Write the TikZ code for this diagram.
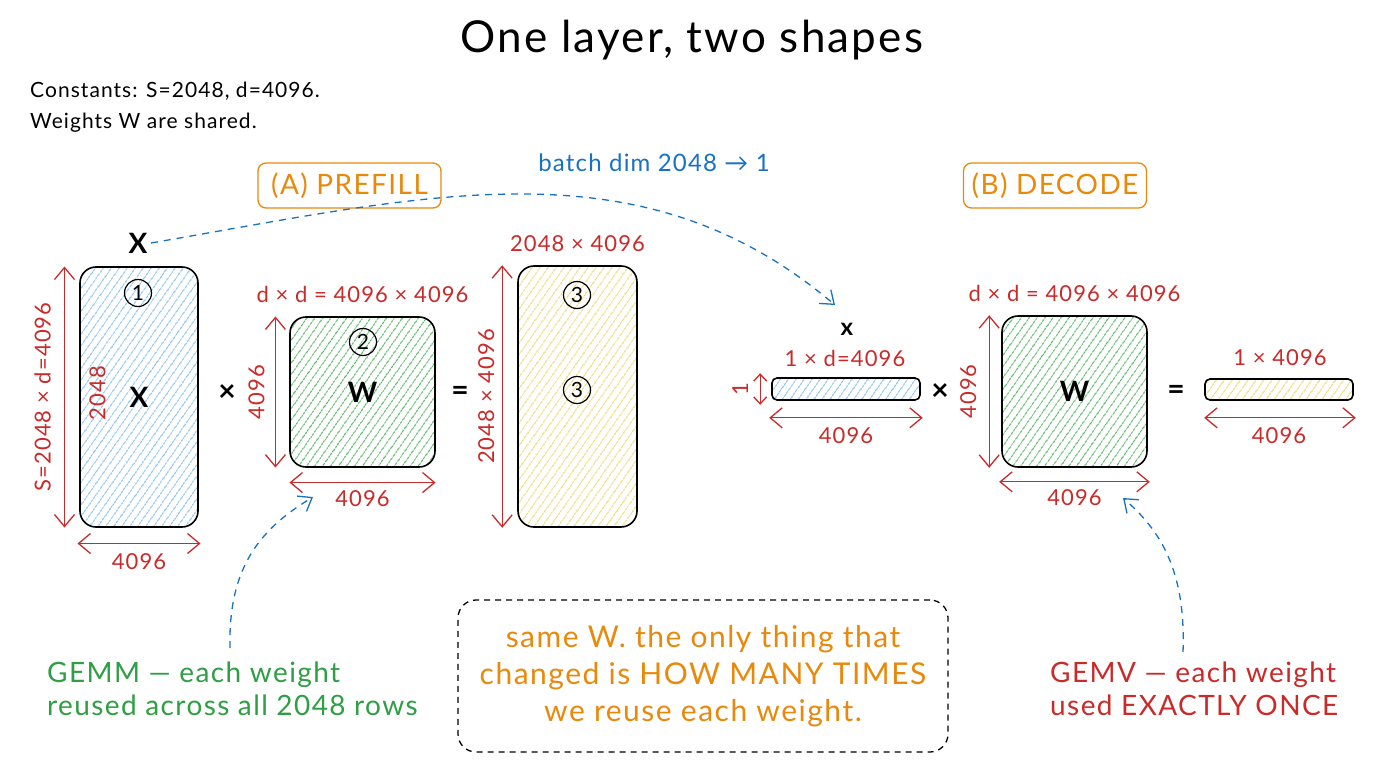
\documentclass[tikz,border=0pt]{standalone}
\usepackage{fontspec}
\setmainfont{Lato}[LetterSpace=5]
\usetikzlibrary{patterns.meta,arrows.meta}
\definecolor{cred}{HTML}{C92A2A}
\definecolor{cblue}{HTML}{1971C2}
\definecolor{cgreen}{HTML}{2F9E44}
\definecolor{corange}{HTML}{E8890C}
\definecolor{hblue}{HTML}{8CC2EE}
\definecolor{hgreen}{HTML}{5CB86A}
\definecolor{hyellow}{HTML}{EEDA7A}
\begin{document}
\begin{tikzpicture}[x=1pt,y=-1pt,
  mat/.style={draw=black,line width=1.6pt,rounded corners=16pt,inner sep=0pt,
    font=\fontsize{28}{30}\selectfont\bfseries},
  hatchb/.style={pattern={Lines[angle=55,distance=6.5pt,line width=1pt]},pattern color=hblue},
  hatchg/.style={pattern={Lines[angle=55,distance=6.5pt,line width=1.1pt]},pattern color=hgreen},
  hatchy/.style={pattern={Lines[angle=55,distance=6.5pt,line width=1pt]},pattern color=hyellow},
  dim/.style={draw=cred,line width=1.3pt,{Straight Barb[length=12pt,width=20pt]}-{Straight Barb[length=12pt,width=20pt]}},
  sdim/.style={draw=cred,line width=1.3pt,{Straight Barb[length=7pt,width=13pt]}-{Straight Barb[length=7pt,width=13pt]}},
  rlab/.style={text=cred,font=\fontsize{22}{24}\selectfont,inner sep=1pt},
  num/.style={draw=black,circle,line width=1.2pt,minimum size=27pt,inner sep=0pt,font=\fontsize{21}{21}\selectfont},
  op/.style={font=\fontsize{30}{30}\selectfont\bfseries},
  phase/.style={draw=corange,text=corange,line width=1.3pt,rounded corners=8pt,minimum width=183pt,minimum height=45pt,font=\fontsize{28}{30}\selectfont},
  bluearrow/.style={draw=cblue,line width=1.3pt,dash pattern=on 7pt off 6pt,-{Straight Barb[length=12pt,width=18pt]}}
]
\useasboundingbox (0,0) rectangle (1376,768);

% title and notes
\node (title) at (692,40) {\fontsize{44}{50}\selectfont One layer, two shapes};
\node[anchor=north west,align=left,inner sep=0pt,font=\fontsize{21}{31}\selectfont] (const) at (30,82)
  {Constants: S=2048, d=4096.\\Weights W are shared.};

\node[phase] (prefill) at (349.5,185.5) {(A) PREFILL};
\node[phase] (decode) at (1055,185.5) {(B) DECODE};
\node[text=cblue,font=\fontsize{24}{26}\selectfont] (batch) at (654,163) {batch dim 2048 → 1};

% ---------------- prefill ----------------
\node[mat,hatchb,minimum width=118pt,minimum height=260pt] (X) at (139,397) {X};
\node[font=\fontsize{28}{30}\selectfont\bfseries] (xlab) at (138,243) {X};
\node[num] (c1) at (138,293) {1};
\draw[dim] ([xshift=-15pt]X.north west) -- ([xshift=-15pt]X.south west);
\node[rlab,rotate=90] (xvert) at ([xshift=-37pt]X.west) {S=2048 × d=4096};
\node[rlab,rotate=90] (xin) at ([xshift=18pt,yshift=4pt]X.west) {2048};
\draw[dim] ([yshift=-16pt,xshift=-2pt]X.south west) -- ([yshift=-16pt,xshift=2pt]X.south east);
\node[rlab] (xh) at ([yshift=-34pt]X.south) {4096};

\node[op] (times1) at (227,393) {×};

\node[mat,hatchg,minimum width=145pt,minimum height=150pt] (W) at (362.5,392) {W};
\node[num] (c2) at (363,342) {2};
\node[rlab] (wtop) at ([yshift=22pt]W.north) {d × d = 4096 × 4096};
\draw[dim] ([xshift=-14pt]W.north west) -- ([xshift=-14pt]W.south west);
\node[rlab,rotate=90] (wvert) at ([xshift=-33pt]W.west) {4096};
\draw[dim] ([yshift=-15pt]W.south west) -- ([yshift=-15pt]W.south east);
\node[rlab] (wh) at ([yshift=-31pt]W.south) {4096};

\node[op] (eq1) at (460,393) {=};

\node[mat,hatchy,minimum width=119pt,minimum height=261pt] (Y) at (577.5,396.5) {};
\node[num] (c3a) at (577,295) {3};
\node[num] (c3b) at (577,390) {3};
\node[rlab] (ytop) at ([yshift=22pt]Y.north) {2048 × 4096};
\draw[dim] ([xshift=-15pt]Y.north west) -- ([xshift=-15pt]Y.south west);
\node[rlab,rotate=90] (yvert) at ([xshift=-31pt]Y.west) {2048 × 4096};

% ---------------- decode ----------------
\node[font=\fontsize{24}{26}\selectfont\bfseries] (xs) at (847,329) {x};
\node[rlab] (xbtop) at (845,358) {1 × d=4096};
\node[mat,hatchb,rounded corners=5pt,minimum width=148pt,minimum height=22pt] (xb) at (846,389) {};
\draw[sdim] ([xshift=-11pt,yshift=4pt]xb.north west) -- ([xshift=-11pt,yshift=-4pt]xb.south west);
\node[rlab,rotate=90] (xbv) at ([xshift=-31pt]xb.west) {1};
\draw[dim] ([yshift=-17pt,xshift=-2pt]xb.south west) -- ([yshift=-17pt,xshift=2pt]xb.south east);
\node[rlab] (xbh) at ([yshift=-35pt]xb.south) {4096};

\node[op] (times2) at (940,392) {×};

\node[mat,hatchg,minimum width=145pt,minimum height=151pt] (W2) at (1074.5,391.5) {W};
\node[rlab] (w2top) at ([yshift=22pt]W2.north) {d × d = 4096 × 4096};
\draw[dim] ([xshift=-12pt]W2.north west) -- ([xshift=-12pt]W2.south west);
\node[rlab,rotate=90] (w2vert) at ([xshift=-33pt]W2.west) {4096};
\draw[dim] ([yshift=-14pt,xshift=-2pt]W2.south west) -- ([yshift=-14pt,xshift=2pt]W2.south east);
\node[rlab] (w2h) at ([yshift=-30pt]W2.south) {4096};

\node[op] (eq2) at (1176,392) {=};

\node[mat,hatchy,rounded corners=5pt,minimum width=148pt,minimum height=21pt] (yb) at (1279,389.5) {};
\node[rlab] (ybtop) at (1280,358) {1 × 4096};
\draw[dim] ([yshift=-17pt]yb.south west) -- ([yshift=-17pt,xshift=2pt]yb.south east);
\node[rlab] (ybh) at ([yshift=-35pt]yb.south) {4096};

% ---------------- bottom ----------------
\node[anchor=west,align=left,text=cgreen,inner sep=0pt,font=\fontsize{28}{33}\selectfont] (gemm) at (47,689)
  {GEMM — each weight\\reused across all 2048 rows};
\node[anchor=west,align=left,text=cred,inner sep=0pt,font=\fontsize{28}{33}\selectfont] (gemv) at (1050,689)
  {GEMV — each weight\\used EXACTLY ONCE};
\node[draw=black,line width=1.3pt,dash pattern=on 6pt off 5pt,rounded corners=18pt,minimum width=490pt,minimum height=152pt,
  align=center,text=corange,font=\fontsize{30}{37}\selectfont] (note) at (703,676)
  {same W. the only thing that\\changed is HOW MANY TIMES\\we reuse each weight.};

% ---------------- connectors ----------------
\coordinate (bt) at (835,305);
\draw[bluearrow] (xlab.east) .. controls (430,195) and (640,140) .. (bt);
\coordinate (gs) at (230,648);
\coordinate (gt) at (313,497);
\draw[bluearrow] (gs) .. controls (228,565) and (262,528) .. (gt);
\coordinate (vs) at (1183,652);
\coordinate (vt) at (1123,498);
\draw[bluearrow] (vs) .. controls (1186,570) and (1160,530) .. (vt);
\end{tikzpicture}
\end{document}
